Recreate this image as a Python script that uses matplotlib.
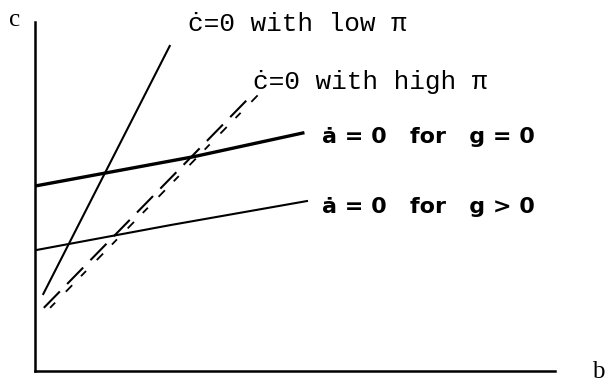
#!/usr/bin/env python3

"""
Phase diagram in the (b, c) plane: the c-dot = 0 loci for low and high
inflation and the a-dot = 0 loci for zero and positive growth.
"""

import matplotlib
matplotlib.use("Agg")
import matplotlib.pyplot as plt

# c-dot = 0 loci (steep); the high-pi one is drawn dashed
low_pi_b = [0.15, 2.60]
low_pi_c = [2.18, 9.34]
high_pi_b = [0.17, 4.17]
high_pi_c = [1.81, 7.91]

# a-dot = 0 loci (flat, slightly bowed)
g_zero_b = [0.0, 3.05, 5.15]
g_zero_c = [5.30, 6.14, 6.82]
g_pos_b = [0.04, 2.60, 5.23]
g_pos_c = [3.47, 4.18, 4.87]

labels = {
    "low_pi": "\u010b=0 with low \u03c0",
    "high_pi": "\u010b=0 with high \u03c0",
    "g_zero": "\u0227 = 0   for   g = 0",
    "g_pos": "\u0227 = 0   for   g > 0",
}

MONO = ["Liberation Mono", "DejaVu Sans Mono"]
HAND = ["DejaVu Sans"]


def main():
    fig = plt.figure(figsize=(6.06, 3.82), dpi=100)
    # axes spans from the origin corner to the end of the b axis
    ax = fig.add_axes([35 / 606, 11 / 382, 520 / 606, 349 / 382])
    ax.set_xlim(0, 10)
    ax.set_ylim(0, 10)
    ax.set_xticks([])
    ax.set_yticks([])
    for side in ("top", "right"):
        ax.spines[side].set_visible(False)
    ax.spines["left"].set_linewidth(1.8)
    ax.spines["bottom"].set_linewidth(1.8)

    ax.plot(low_pi_b, low_pi_c, color="black", lw=1.5, solid_capstyle="butt")

    # high-pi locus: two staggered dashed strokes side by side
    ax.plot(high_pi_b, high_pi_c, color="black", lw=1.5,
            dashes=(11, 5), dash_capstyle="butt")
    ax.plot([b + 0.12 for b in high_pi_b], high_pi_c,
            color="black", lw=1.3, dashes=(4, 8.5, 5, 7), dash_capstyle="butt")

    ax.plot(g_zero_b, g_zero_c, color="black", lw=2.4)
    ax.plot(g_pos_b, g_pos_c, color="black", lw=1.5)

    ax.text(2.94, 9.74, labels["low_pi"], family=MONO, fontsize=18.8,
            va="baseline", clip_on=False)
    ax.text(4.19, 8.08, labels["high_pi"], family=MONO, fontsize=18.8,
            va="baseline", clip_on=False)
    ax.text(5.52, 6.70, labels["g_zero"], family=HAND, fontsize=16,
            fontweight="bold", va="center")
    ax.text(5.52, 4.70, labels["g_pos"], family=HAND, fontsize=16,
            fontweight="bold", va="center")

    fig.text(15 / 606, 1 - 20 / 382, "c", family="Liberation Serif",
             fontsize=18, ha="center", va="center")
    fig.text(598 / 606, 1 - 372 / 382, "b", family="Liberation Serif",
             fontsize=18, ha="center", va="center")

    fig.savefig("out.png", dpi=100, facecolor="white")


if __name__ == "__main__":
    main()
